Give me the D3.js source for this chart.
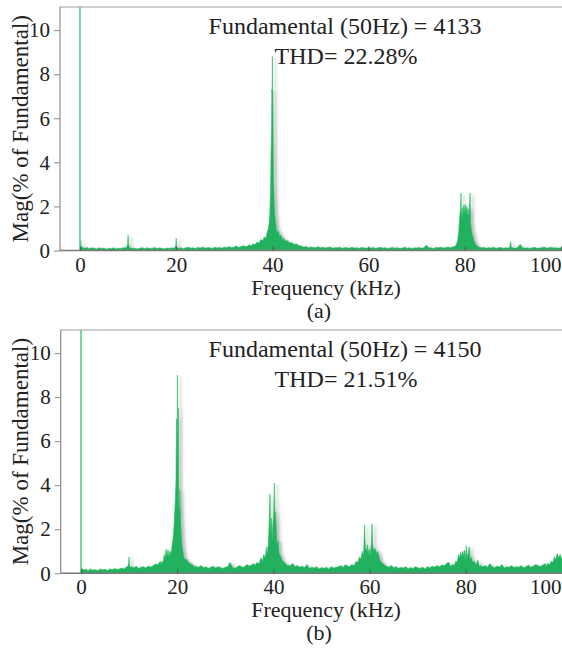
<!DOCTYPE html>
<html>
<head>
<meta charset="utf-8">
<script src="https://cdn.jsdelivr.net/npm/d3@7"></script>
<style>
  html, body { margin: 0; padding: 0; background: #fff; }
  svg { display: block; }
  svg text { font-family: "Liberation Serif", "Noto Serif", Tinos, "Times New Roman", "DejaVu Serif", serif; fill: #222; }
</style>
</head>
<body>
<svg id="chart" width="562" height="652"></svg>
<script>
// Harmonic spectrum of the output voltage, two switching schemes (a) and (b).
// Frequency axis in kHz, magnitude in % of the 50 Hz fundamental.

const xTicks = [0, 20, 40, 60, 80, 100];
const yTicks = [0, 2, 4, 6, 8, 10];
const panelLabels = ["(a)", "(b)"];
const fundamentalText = ["Fundamental (50Hz) = 4133", "Fundamental (50Hz) = 4150"];
const thdText = ["THD= 22.28%", "THD= 21.51%"];
const fundamentalMag = [100, 100];

// Noise floor, one value every 0.5 kHz from 0.5 to 100 kHz.
const FLOOR_STEP = 0.5;
const floorA = [
  0.15,0.1,0.14,0.08,0.12,0.1,0.07,0.12,0.09,0.11,0.06,0.1,0.08,0.12,0.07,0.1,0.09,0.12,0.13,0.15,
  0.12,0.09,0.1,0.07,0.11,0.12,0.08,0.13,0.09,0.1,0.14,0.08,0.12,0.1,0.07,0.11,0.09,0.12,0.1,0.14,
  0.1,0.13,0.08,0.12,0.15,0.1,0.12,0.09,0.14,0.11,0.16,0.1,0.13,0.12,0.09,0.15,0.11,0.14,0.1,0.16,
  0.12,0.18,0.13,0.15,0.2,0.14,0.18,0.22,0.17,0.25,0.3,0.28,0.38,0.45,0.5,0.62,0.8,1.0,1.5,8.8,
  0.5,0.6,0.55,0.45,0.4,0.32,0.3,0.25,0.22,0.2,0.17,0.2,0.15,0.18,0.13,0.16,0.14,0.12,0.17,0.13,
  0.15,0.11,0.14,0.16,0.1,0.13,0.12,0.15,0.09,0.14,0.12,0.1,0.15,0.11,0.13,0.09,0.14,0.12,0.1,0.13,
  0.11,0.14,0.09,0.12,0.15,0.1,0.13,0.08,0.12,0.14,0.1,0.13,0.09,0.11,0.15,0.1,0.12,0.08,0.13,0.11,
  0.14,0.1,0.12,0.25,0.11,0.13,0.09,0.14,0.12,0.15,0.11,0.13,0.16,0.12,0.18,0.15,0.2,0.4,1.5,2.0,
  2.0,2.6,0.6,0.3,0.18,0.15,0.12,0.14,0.1,0.13,0.11,0.15,0.09,0.12,0.14,0.1,0.13,0.11,0.15,0.12,
  0.1,0.14,0.28,0.12,0.1,0.13,0.09,0.12,0.14,0.1,0.11,0.13,0.16,0.1,0.12,0.15,0.11,0.13,0.1,0.12
];
const floorB = [
  0.15,0.18,0.12,0.2,0.14,0.17,0.12,0.2,0.15,0.18,0.13,0.2,0.16,0.22,0.17,0.2,0.24,0.2,0.3,0.75,
  0.3,0.25,0.32,0.22,0.28,0.3,0.24,0.33,0.28,0.35,0.42,0.4,0.55,0.6,0.9,1.0,1.3,2.5,3.0,9.0,
  3.0,1.4,0.7,0.55,0.45,0.35,0.4,0.3,0.28,0.35,0.25,0.3,0.22,0.28,0.32,0.24,0.3,0.26,0.22,0.28,
  0.3,0.5,0.28,0.22,0.3,0.35,0.27,0.3,0.4,0.33,0.38,0.45,0.5,0.7,0.6,0.9,1.0,1.8,2.6,2.6,
  2.5,1.5,0.9,0.6,0.5,0.4,0.35,0.45,0.3,0.35,0.28,0.32,0.25,0.4,0.22,0.28,0.24,0.3,0.2,0.26,
  0.22,0.28,0.2,0.3,0.24,0.27,0.3,0.35,0.28,0.4,0.32,0.45,0.38,0.6,0.55,0.8,1.0,2.2,1.1,1.0,
  2.2,1.2,1.0,0.7,0.5,0.4,0.32,0.28,0.35,0.25,0.3,0.22,0.28,0.24,0.3,0.2,0.26,0.22,0.3,0.25,
  0.22,0.28,0.2,0.3,0.25,0.32,0.28,0.35,0.3,0.38,0.35,0.45,0.5,0.6,0.85,0.7,1.0,0.8,1.05,1.25,
  0.9,1.2,0.75,0.5,0.35,0.6,0.3,0.35,0.28,0.45,0.3,0.25,0.33,0.28,0.4,0.24,0.3,0.27,0.35,0.26,
  0.3,0.28,0.35,0.25,0.3,0.38,0.28,0.32,0.4,0.35,0.3,0.38,0.45,0.4,0.55,0.75,0.6,0.9,0.85,0.65
];

// Sideband clusters, [kHz, %] pairs, finer resolution around each carrier multiple.
const nearDcA = [[0.05,0],[0.15,0.45],[0.3,0.18]];
const band10A = [[9.7,0.15],[9.9,0.3],[10,0.7],[10.1,0.3],[10.3,0.12]];
const band20A = [[19.7,0.14],[19.9,0.22],[20,0.55],[20.1,0.2],[20.3,0.1]];
const band40A = [
  [34.8,0.2],[35.2,0.26],[35.6,0.22],[36,0.3],[36.4,0.27],[36.8,0.38],[37.2,0.34],[37.6,0.5],
  [38,0.45],[38.3,0.62],[38.6,0.55],[38.9,0.8],[39.1,0.95],[39.3,1.2],[39.45,1.6],[39.6,2.6],
  [39.72,4.4],[39.82,5.6],[39.88,7.3],[39.95,7.2],[40.0,8.8],[40.05,7.3],[40.12,7.2],[40.2,4.6],
  [40.3,2.8],[40.45,1.8],[40.65,1.3],[40.85,1.0],[41.05,0.8],[41.3,0.9],[41.5,0.62],[41.8,0.7],
  [42.1,0.5],[42.4,0.55],[42.8,0.42],[43.2,0.45],[43.6,0.33],[44,0.36],[44.5,0.27],[45,0.3],
  [45.5,0.22],[46,0.2]
];
const band80A = [
  [77.8,0.16],[78.2,0.25],[78.5,0.45],[78.75,0.9],[78.95,1.6],[79.1,1.9],[79.2,2.6],[79.3,1.5],
  [79.45,1.95],[79.6,1.55],[79.75,2.05],[79.9,1.7],[80.05,2.1],[80.2,1.75],[80.35,2.0],[80.5,1.6],
  [80.65,1.9],[80.8,1.5],[80.95,2.0],[81.1,2.6],[81.2,1.3],[81.4,0.9],[81.6,0.7],[81.9,0.45],
  [82.2,0.3],[82.6,0.2],[83,0.15]
];
const band90A = [[89.3,0.12],[89.5,0.4],[89.7,0.12]];

const nearDcB = [[0.05,0],[0.15,0.25],[0.3,0.2]];
const band10B = [[9.7,0.3],[9.9,0.45],[10,0.75],[10.1,0.4],[10.3,0.28]];
const band20B = [
  [16.6,0.4],[16.9,0.55],[17.1,0.5],[17.3,0.85],[17.5,0.7],[17.7,1.1],[17.9,0.8],[18.1,1.05],
  [18.3,0.75],[18.5,1.0],[18.7,0.85],[18.9,1.2],[19.1,1.5],[19.3,2.0],[19.45,2.6],[19.6,3.3],
  [19.75,4.2],[19.85,7.0],[19.95,5.2],[20.05,9.0],[20.15,6.2],[20.25,7.5],[20.35,3.0],[20.45,2.8],
  [20.55,3.8],[20.7,2.6],[20.85,1.8],[21.0,1.3],[21.2,1.0],[21.4,0.75],[21.7,0.6],[22.0,0.65],
  [22.3,0.5],[22.7,0.45],[23.1,0.4],[23.5,0.32]
];
const band40B = [
  [36.2,0.35],[36.6,0.5],[37,0.42],[37.4,0.7],[37.7,0.55],[38,0.85],[38.3,0.7],[38.6,1.2],
  [38.8,0.9],[39.0,1.6],[39.15,2.6],[39.3,3.6],[39.45,1.9],[39.6,2.5],[39.75,1.5],[39.9,2.2],
  [40.05,2.6],[40.2,4.1],[40.35,2.4],[40.5,2.8],[40.65,1.7],[40.8,1.3],[41.0,1.5],[41.2,0.9],
  [41.5,0.8],[41.8,0.6],[42.2,0.5],[42.6,0.42],[43,0.35]
];
const band60B = [
  [55.8,0.3],[56.3,0.4],[56.8,0.35],[57.2,0.55],[57.6,0.5],[57.9,0.75],[58.2,0.65],[58.5,1.0],
  [58.75,0.8],[58.95,2.2],[59.1,1.2],[59.3,1.0],[59.5,1.3],[59.7,0.9],[59.9,1.1],[60.1,0.8],
  [60.3,1.2],[60.5,2.25],[60.65,1.3],[60.85,1.0],[61.1,1.15],[61.4,0.9],[61.7,1.0],[62,0.7],
  [62.4,0.5],[62.8,0.45],[63.2,0.35]
];
const band80B = [
  [76.8,0.3],[77.2,0.4],[77.6,0.35],[77.9,0.55],[78.2,0.5],[78.5,0.85],[78.7,0.7],[78.9,0.95],
  [79.1,0.75],[79.3,1.0],[79.5,0.8],[79.7,1.05],[79.9,0.6],[80.1,1.25],[80.3,0.7],[80.5,0.9],
  [80.7,1.2],[80.9,0.65],[81.1,0.75],[81.4,0.5],[81.8,0.55],[82.1,0.35],[82.5,0.6],[82.8,0.3],
  [83.2,0.35]
];
const band100B = [
  [96.6,0.3],[97,0.45],[97.4,0.4],[97.8,0.55],[98.1,0.5],[98.4,0.75],[98.7,0.6],[99,0.9],
  [99.3,0.7],[99.6,0.85],[99.9,0.65],[100.2,0.7]
];

// Merge floor and sideband clusters into one sorted [kHz, %] series.
function buildSpectrum(floor, bands) {
  const pts = [];
  floor.forEach((v, i) => {
    const f = (i + 1) * FLOOR_STEP;
    const covered = bands.some(b => f >= b[0][0] && f <= b[b.length - 1][0]);
    if (!covered) pts.push([f, v]);
  });
  bands.forEach(b => pts.push(...b));
  pts.sort((a, b) => a[0] - b[0]);
  return [[0, 0], ...pts, [pts[pts.length - 1][0], 0]];
}

const panels = [
  { spectrum: buildSpectrum(floorA, [nearDcA, band10A, band20A, band40A, band80A, band90A]),
    top: 7, bottom: 250.5, left: 60, xr: [60, 562] },
  { spectrum: buildSpectrum(floorB, [nearDcB, band10B, band20B, band40B, band60B, band80B, band100B]),
    top: 330, bottom: 573.3, left: 60.7, xr: [61, 563] }
];

const FONT = '"Liberation Serif", "Noto Serif", Tinos, "Times New Roman", "DejaVu Serif", serif';
const svg = d3.select("#chart");
const defs = svg.append("defs");
const shadow = defs.append("filter").attr("id", "soft-shadow")
  .attr("x", "-10%").attr("y", "-10%").attr("width", "130%").attr("height", "130%");
shadow.append("feDropShadow").attr("dx", 3).attr("dy", 1.5)
  .attr("stdDeviation", 1.6).attr("flood-color", "#000").attr("flood-opacity", 0.28);

const W = 562;
const yTop = 11.05;

panels.forEach((p, k) => {
  const x = d3.scaleLinear().domain([-4.15, 100.2]).range(p.xr);
  const y = d3.scaleLinear().domain([0, yTop]).range([p.bottom, p.top]);
  const g = svg.append("g").attr("font-family", FONT);

  defs.append("clipPath").attr("id", "clip" + k)
    .append("rect").attr("x", p.left).attr("y", p.top)
    .attr("width", W - p.left).attr("height", p.bottom - p.top);

  // top frame line
  g.append("line").attr("x1", p.left).attr("x2", W).attr("y1", p.top).attr("y2", p.top)
    .attr("stroke", "#a0a0a0").attr("stroke-width", 1.2);

  // spectrum
  const plot = g.append("g").attr("clip-path", `url(#clip${k})`);
  const area = d3.area()
    .x(d => x(d[0]))
    .y0(y(0))
    .y1(d => y(d[1]))
    .curve(d3.curveLinear);
  plot.append("path").datum(p.spectrum)
    .attr("d", area)
    .attr("fill", "#22b25e")
    .attr("stroke", "#2bbd68")
    .attr("stroke-width", 0.6)
    .attr("filter", "url(#soft-shadow)");

  // fundamental component at 50 Hz
  plot.append("line")
    .attr("x1", x(0)).attr("x2", x(0))
    .attr("y1", y(0)).attr("y2", y(fundamentalMag[k]))
    .attr("stroke", "#55d08f").attr("stroke-width", 1.6);

  // y axis
  const yAxis = d3.axisLeft(y).tickValues(yTicks).tickSize(6).tickPadding(4);
  const ya = g.append("g").attr("transform", `translate(${p.left},0)`).call(yAxis)
    .attr("font-family", FONT);
  ya.select(".domain").attr("stroke", "#8a8a8a").attr("stroke-width", 1.2)
    .attr("d", `M0,${p.top}V${p.bottom}`);
  ya.selectAll(".tick line").attr("stroke", "#8a8a8a");
  ya.selectAll(".tick text").attr("font-size", 21).attr("fill", "#2a2a2a");

  // x axis
  const xAxis = d3.axisBottom(x).tickValues(xTicks).tickSize(-4).tickPadding(0);
  const xa = g.append("g").attr("transform", `translate(0,${p.bottom})`).call(xAxis)
    .attr("font-family", FONT);
  xa.select(".domain").attr("stroke", "#7a7a7a").attr("stroke-width", 1.4)
    .attr("d", `M${p.left},0H${W}`);
  xa.selectAll(".tick line").attr("stroke", "#555");
  xa.selectAll(".tick text").attr("font-size", 21).attr("fill", "#2a2a2a")
    .attr("dy", null).attr("y", 21)
    .attr("text-anchor", d => d === 100 ? "end" : "middle")
    .attr("dx", d => d === 100 ? (W - 1 - x(100)) : 0);

  // axis titles
  g.append("text")
    .attr("transform", `translate(27.5,${(p.top + p.bottom) / 2}) rotate(-90)`)
    .attr("text-anchor", "middle").attr("font-size", 23)
    .text("Mag(% of Fundamental)");
  g.append("text")
    .attr("x", 326).attr("y", p.bottom + 44)
    .attr("text-anchor", "middle").attr("font-size", 22)
    .text("Frequency (kHz)");
  g.append("text")
    .attr("x", 319).attr("y", p.bottom + 67)
    .attr("text-anchor", "middle").attr("font-size", 22)
    .text(panelLabels[k]);

  // annotation
  g.append("text")
    .attr("x", 345).attr("y", p.top + 27)
    .attr("text-anchor", "middle").attr("font-size", 24)
    .attr("fill", "#111")
    .text(fundamentalText[k]);
  g.append("text")
    .attr("x", 346).attr("y", p.top + 57)
    .attr("text-anchor", "middle").attr("font-size", 24)
    .attr("fill", "#111")
    .text(thdText[k]);
});
</script>
</body>
</html>
